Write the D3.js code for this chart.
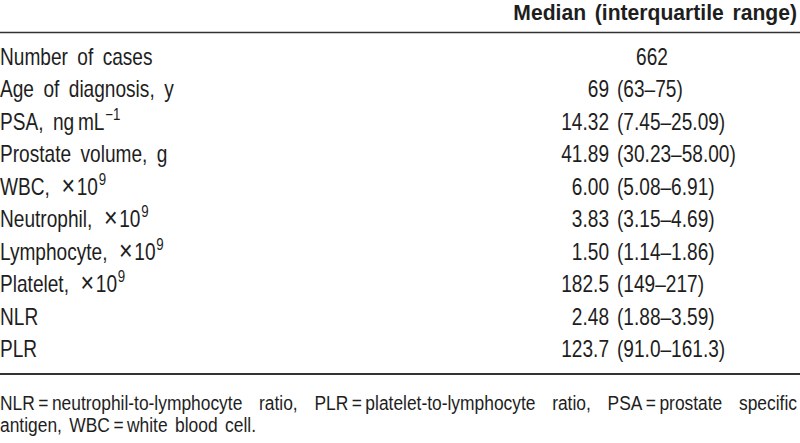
<!DOCTYPE html>
<html>
<head>
<meta charset="utf-8">
<script src="https://cdn.jsdelivr.net/npm/d3@7"></script>
<style>
  body { margin: 0; background: #fff; }
  svg text { font-family: "Liberation Sans", Arial, sans-serif; fill: #1e1e1e; }
</style>
</head>
<body>
<svg id="svg"></svg>
<script>
// table contents
var rowLabels = ["Number of cases", "Age of diagnosis, y", "PSA, ng\u2009mL", "Prostate volume, g",
                 "WBC,", "Neutrophil,", "Lymphocyte,", "Platelet,", "NLR", "PLR"];
var labelUnit = ["", "", "", "", "10", "10", "10", "10", "", ""];
var labelSup = ["", "", "\u22121", "", "9", "9", "9", "9", "", ""];
var medians = ["662", "69", "14.32", "41.89", "6.00", "3.83", "1.50", "182.5", "2.48", "123.7"];
var lowerQ  = ["", "63", "7.45", "30.23", "5.08", "3.15", "1.14", "149", "1.88", "91.0"];
var upperQ  = ["", "75", "25.09", "58.00", "6.91", "4.69", "1.86", "217", "3.59", "161.3"];
var header = "Median (interquartile range)";
var footnote = ["NLR\u2009=\u2009neutrophil-to-lymphocyte ratio, PLR\u2009=\u2009platelet-to-lymphocyte ratio, PSA\u2009=\u2009prostate specific",
                "antigen, WBC\u2009=\u2009white blood cell."];

var width = 800, height = 443;
var sx = 0.83;      // horizontal squeeze to imitate the condensed face
var fontSize = 23;
var splitX = 609;   // medians end here, ranges start just after

var svg = d3.select("#svg").attr("width", width).attr("height", height);

var y = d3.scalePoint().domain(d3.range(rowLabels.length)).range([65, 357]);

// puts a squeezed text at (x, yy), returns the text selection
function addText(x, yy, scale, anchor, size) {
    return svg.append("g")
        .attr("transform", "translate(" + x + "," + yy + ") scale(" + scale + ",1)")
        .append("text")
        .attr("text-anchor", anchor)
        .style("font-size", size + "px");
}

// header
addText(797, 20, 0.96, "end", 22)
    .style("font-weight", "bold")
    .style("word-spacing", "3px")
    .text(header);

svg.append("line").attr("x1", 0).attr("x2", width).attr("y1", 32.5).attr("y2", 32.5)
    .attr("stroke", "#333").attr("stroke-width", 1.3);
svg.append("line").attr("x1", 0).attr("x2", width).attr("y1", 374).attr("y2", 374)
    .attr("stroke", "#333").attr("stroke-width", 2);

rowLabels.forEach(function(d, i) {
    var t = addText(0, y(i), sx, "start", fontSize).style("word-spacing", "5px");
    t.append("tspan").text(d);
    if (labelUnit[i] !== "") {
        t.append("tspan").attr("dx", 14).style("font-size", "28px").text("\u00d7");
        t.append("tspan").attr("dx", 2).text(labelUnit[i]);
    }
    if (labelSup[i] !== "") {
        t.append("tspan").attr("dy", -10).attr("dx", 1).style("font-size", "16px").text(labelSup[i]);
    }

    if (lowerQ[i] === "") {
        addText(652, y(i), sx, "middle", fontSize).text(medians[i]);
    } else {
        addText(splitX, y(i), sx, "end", fontSize).text(medians[i]);
        addText(splitX + 8, y(i), sx, "start", fontSize)
            .text("(" + lowerQ[i] + "\u2013" + upperQ[i] + ")");
    }
});

// footnote, first line justified across the width
var fsx = 0.87;
footnote.forEach(function(d, i) {
    var t = addText(0, 410 + i * 22, fsx, "start", 20);
    if (i === 0) {
        var words = d.split(" ");
        var spans = words.map(function(w) { return t.append("tspan").text(w); });
        var total = d3.sum(spans, function(s) { return s.node().getComputedTextLength(); });
        var gap = (797 / fsx - total) / (words.length - 1);
        var x = 0;
        spans.forEach(function(s) {
            s.attr("x", x);
            x += s.node().getComputedTextLength() + gap;
        });
    } else {
        t.style("word-spacing", "3px").text(d);
    }
});
</script>
</body>
</html>
